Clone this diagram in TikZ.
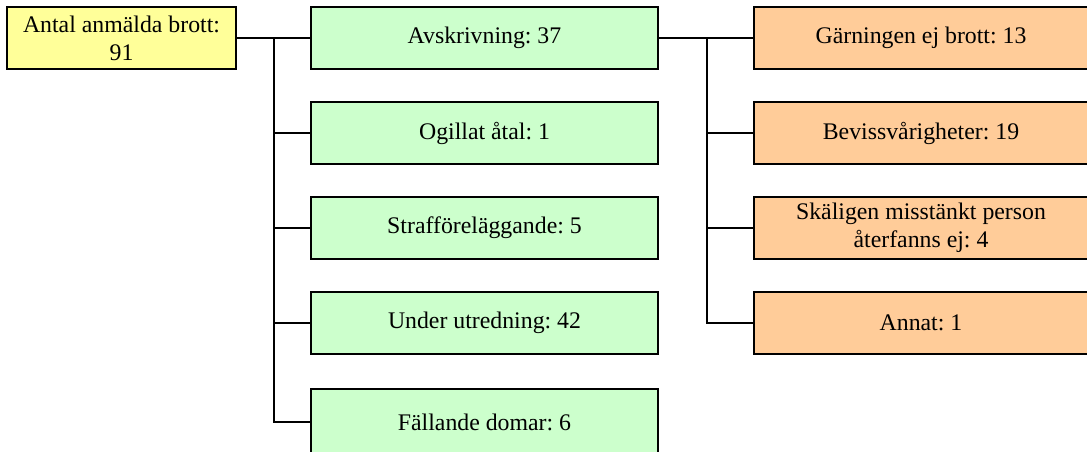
\documentclass[tikz,border=0pt]{standalone}
\usepackage{fontspec}
\setmainfont{Liberation Serif}
\definecolor{ybox}{HTML}{FFFF99}
\definecolor{gbox}{HTML}{CCFFCC}
\definecolor{obox}{HTML}{FFCC99}
\begin{document}
\begin{tikzpicture}[x=1pt,y=1pt,
  box/.style={draw=black,line width=2pt,minimum height=62pt,inner sep=0pt,align=center,
    font=\fontsize{23.8}{28}\selectfont\frenchspacing},
  ybx/.style={box,fill=ybox,minimum width=229pt},
  gbx/.style={box,fill=gbox,minimum width=347pt},
  obx/.style={box,fill=obox,minimum width=334pt},
  conn/.style={draw=black,line width=2pt}]
\useasboundingbox (0,0) rectangle (1087,-451);
\begin{scope}
\clip (0,0) rectangle (1087,-451);
\node[ybx] (y) at (121.5,-38) {Antal anmälda brott:\\91};
\node[gbx] (g1) at (484.5,-38) {Avskrivning: 37};
\node[gbx] (g2) at (484.5,-133) {Ogillat åtal: 1};
\node[gbx] (g3) at (484.5,-228) {Strafföreläggande: 5};
\node[gbx] (g4) at (484.5,-323) {Under utredning: 42};
\node[gbx,minimum height=66pt] (g5) at (484.5,-422) {Fällande domar: 6};
\node[obx] (o1) at (921,-38) {Gärningen ej brott: 13};
\node[obx] (o2) at (921,-133) {Bevissvårigheter: 19};
\node[obx] (o3) at (921,-228) {Skäligen misstänkt person\\återfanns ej: 4};
\node[obx] (o4) at (921,-323) {Annat: 1};
\coordinate (t) at (274,-38);
\coordinate (u) at (707,-38);
\draw[conn] (y.east) -- (g1.west);
\draw[conn] (t) |- (g2.west);
\draw[conn] (t) |- (g3.west);
\draw[conn] (t) |- (g4.west);
\draw[conn] (t) |- (g5.west);
\draw[conn] (g1.east) -- (o1.west);
\draw[conn] (u) |- (o2.west);
\draw[conn] (u) |- (o3.west);
\draw[conn] (u) |- (o4.west);
\end{scope}
\end{tikzpicture}
\end{document}
